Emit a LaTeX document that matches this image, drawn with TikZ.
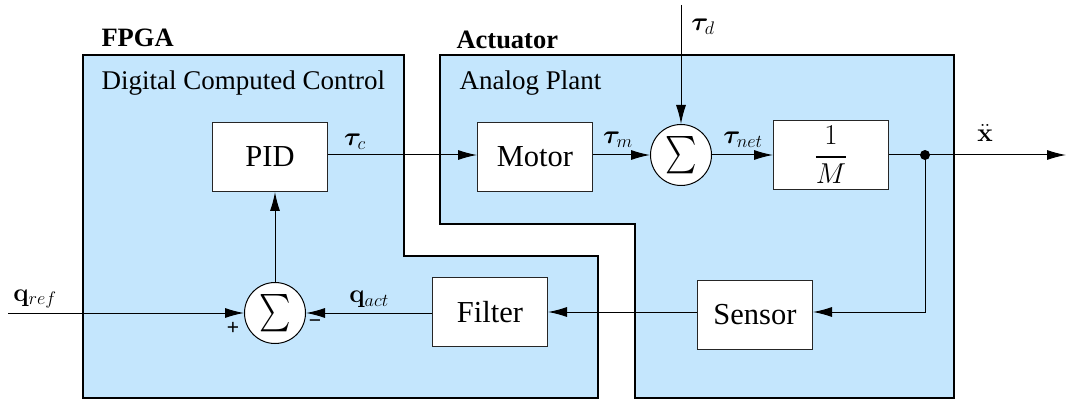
\RequirePackage{fix-cm}
\documentclass[tikz,border=0pt]{standalone}
\usepackage{amsmath,bm,graphicx}
\usepackage[no-math]{fontspec}
\setmainfont{Liberation Serif}
\setsansfont{Liberation Sans}
\usetikzlibrary{arrows.meta}
\definecolor{regionblue}{RGB}{196,230,253}
\tikzset{
  region/.style={draw=black, line width=2.2pt, fill=regionblue},
  blockbox/.style={draw=black!85, line width=1pt, fill=white, minimum width=115pt, minimum height=69pt, inner sep=0pt, font=\fontsize{30.5}{32}\selectfont},
  sumnode/.style={draw=black, line width=1pt, fill=white, circle, minimum size=61pt, inner sep=0pt, font=\fontsize{29}{30}\selectfont},
  sig/.style={line width=1pt, -{Latex[length=19pt,width=10pt]}},
  lbl/.style={font=\fontsize{26}{28}\selectfont},
  title/.style={font=\fontsize{26.5}{28}\selectfont\bfseries, anchor=west},
  sub/.style={font=\fontsize{27}{29}\selectfont, anchor=west},
  sgn/.style={font=\fontsize{21}{22}\selectfont\sffamily},
}
\newcommand{\bigsum}{\scalebox{1.2}[1.5]{$\sum$}}
\begin{document}
\begin{tikzpicture}[x=1pt,y=-1pt]
\useasboundingbox (0,0) rectangle (1067,403);
% regions
\draw[region] (83,55) -- (404,55) -- (404,256) -- (598,256) -- (598,398) -- (83,398) -- cycle;
\draw[region] (440,55) -- (954,55) -- (954,398) -- (635,398) -- (635,224) -- (440,224) -- cycle;
\node[title] (fpga) at (98,38) {FPGA};
\node[sub] (dcc) at (98,83) {Digital Computed Control};
\node[title] (act) at (453,40) {Actuator};
\node[sub] (ap) at (456,83) {Analog Plant};
% blocks
\node[blockbox] (pid) at (270,157) {PID};
\node[blockbox] (motor) at (535,157) {Motor};
\node[sumnode] (sum1) at (681,155) {\bigsum};
\node[blockbox] (invm) at (831,155) {\fontsize{25}{26}\selectfont\scalebox{1.15}{$\dfrac{1}{M}$}};
\node[blockbox] (sensor) at (755,315) {Sensor};
\node[blockbox] (filter) at (490,312) {Filter};
\node[sumnode] (sum2) at (275,313) {\bigsum};
% junction and free ends
\fill (925,155) circle (5pt);
\coordinate (dot) at (925,155);
\coordinate (out) at (1066,155);
\coordinate (td) at (681,5);
\coordinate (qin) at (8,313);
% connectors
\draw[sig] (pid.east |- 0,155) -- (motor.west |- 0,155);
\draw[sig] (motor.east |- 0,155) -- (sum1.west);
\draw[sig] (td) -- (sum1.north);
\draw[sig] (sum1.east) -- (invm.west);
\draw[line width=1pt] (invm.east) -- (dot);
\draw[sig] (dot) -- (out);
\draw[sig] (dot) |- (sensor.east |- 0,312);
\draw[sig] (sensor.west |- 0,312) -- (filter.east |- 0,312);
\draw[sig] (filter.west |- 0,313) -- (sum2.east);
\draw[sig] (qin) -- (sum2.west);
\draw[sig] (sum2.north) -- (sum2.north |- pid.south);
% labels
\node[lbl] (ltc) at (355,142) {$\bm{\tau}_c$};
\node[lbl] (ltm) at (618,140) {$\bm{\tau}_m$};
\node[lbl] (ltn) at (743,140) {$\bm{\tau}_{net}$};
\node[lbl] (ltd) at (703,27) {$\bm{\tau}_d$};
\node[lbl] (lx) at (985,133) {$\ddot{\mathbf{x}}$};
\node[lbl] (lqr) at (35,299) {$\mathbf{q}_{ref}$};
\node[lbl] (lqa) at (369,299) {$\mathbf{q}_{act}$};
\node[sgn] (plus) at (233,328) {+};
\node[sgn] (minus) at (315,324) {\textminus};
\end{tikzpicture}
\end{document}
